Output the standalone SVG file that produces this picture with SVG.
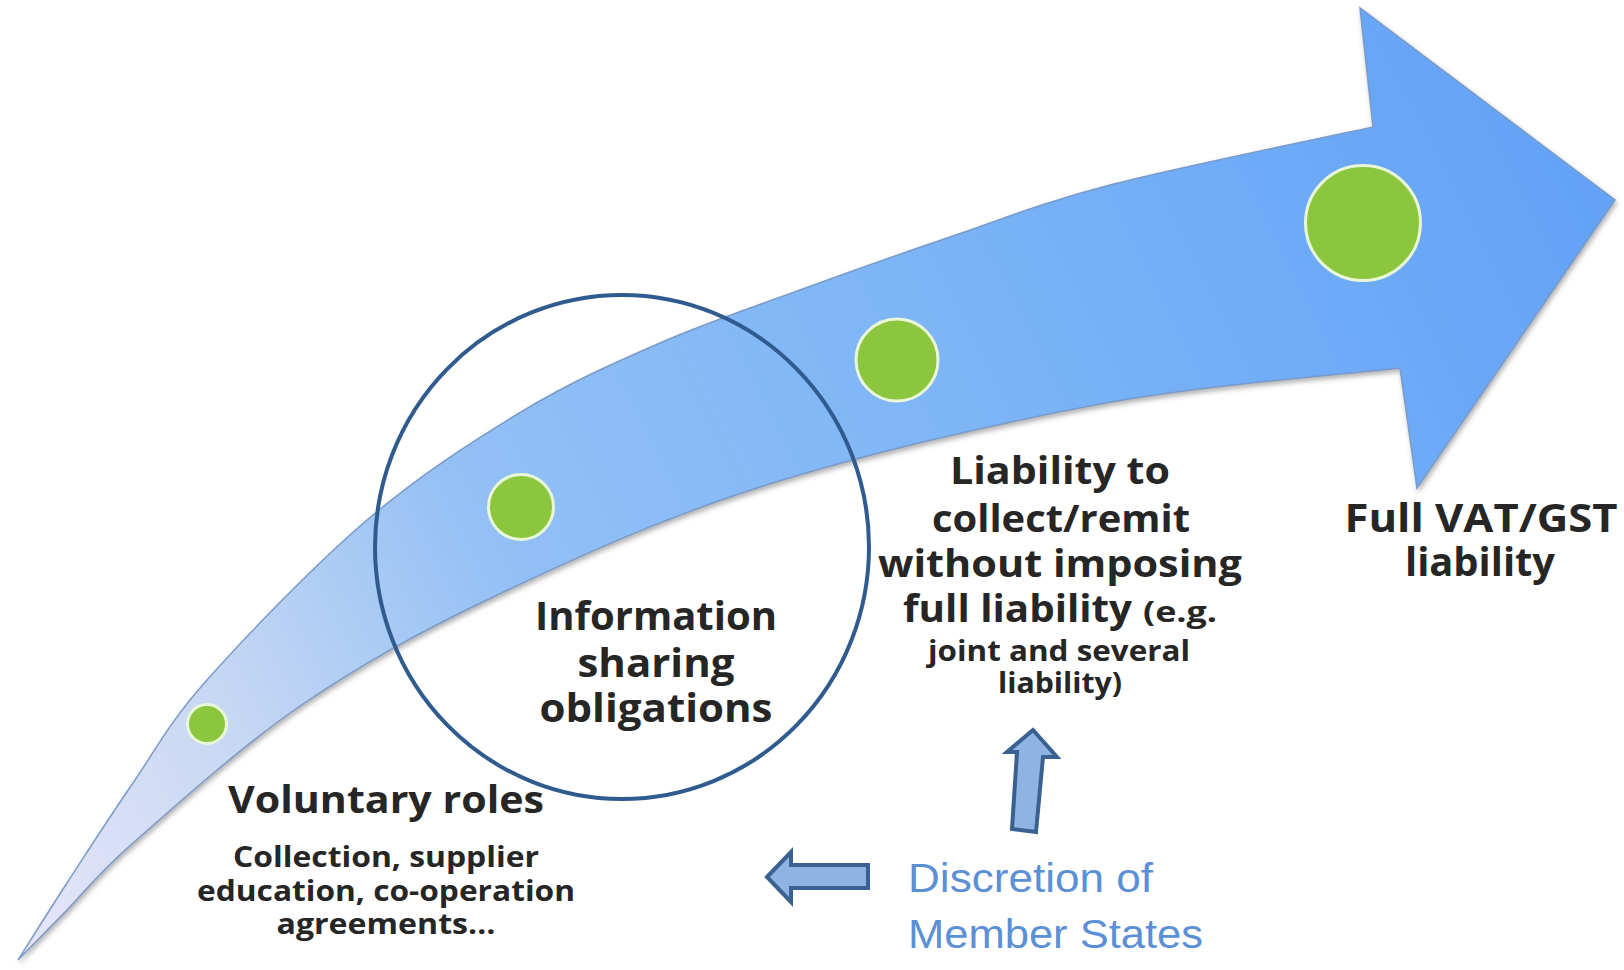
<svg xmlns="http://www.w3.org/2000/svg" width="1624" height="970" viewBox="0 0 1624 970">
  <defs>
    <linearGradient id="bandGrad" gradientUnits="userSpaceOnUse" x1="18" y1="960" x2="1615" y2="150">
      <stop offset="0" stop-color="#e8e6f9"/>
      <stop offset="0.17" stop-color="#c6d7f3"/>
      <stop offset="0.34" stop-color="#93c0f5"/>
      <stop offset="0.7" stop-color="#76b1f7"/>
      <stop offset="1" stop-color="#62a1f6"/>
    </linearGradient>
    <filter id="shadow" x="-5%" y="-5%" width="110%" height="115%">
      <feDropShadow dx="1.5" dy="3" stdDeviation="2.5" flood-color="#555" flood-opacity="0.45"/>
    </filter>
    <style>
      .dot { fill: #8cc63f; stroke: #e9f8d6; stroke-width: 3; }
      .lbl { font-family: "Open Sans", "Liberation Sans", sans-serif; font-weight: 700; fill: #262626; text-anchor: middle; }
      .big { font-size: 39px; }
      .mid { font-size: 37px; }
      .sm { font-size: 28px; }
      .blk { fill: #8eb4e3; stroke: #3a6191; stroke-width: 4; stroke-linejoin: miter; }
      .note { font-family: "Liberation Sans", "Noto Sans", sans-serif; font-size: 41px; fill: #5b8fd6; }
    </style>
  </defs>

  <rect width="1624" height="970" fill="#ffffff"/>

  <g id="main-arrow">
    <path filter="url(#shadow)" fill="url(#bandGrad)" stroke="#7a9bc9" stroke-width="1.5" stroke-linejoin="miter"
      d="M 18,960
         C 26.2,947.2 47.8,912.5 67,883
         C 86.2,853.5 109.7,816.8 133,783
         C 156.3,749.2 168,723.8 207,680
         C 246,636.2 314.7,564.7 367,520
         C 419.3,475.3 472.2,441.5 521,412
         C 569.8,382.5 613.5,363.3 660,343
         C 706.5,322.7 751.7,307.7 800,290
         C 848.3,272.3 898.3,254.5 950,237
         C 1001.7,219.5 1039.5,203.3 1110,185
         C 1180.5,166.7 1329.2,136.7 1373,127
         L 1360,8
         L 1615,200
         L 1417,488
         L 1400,368
         C 1350,374 1206.7,384.2 1100,404
         C 993.3,423.8 861.2,454.8 760,487
         C 658.8,519.2 569.7,560.5 493,597
         C 416.3,633.5 360,665 300,706
         C 240,747 171.8,809 133,843
         C 94.2,877 86.2,890.5 67,910
         C 47.8,929.5 26.2,951.7 18,960 Z"/>
  </g>

  <g id="stage-voluntary">
    <circle class="dot" cx="207" cy="724" r="19.5"/>
    <text class="lbl mid" x="386" y="813" textLength="316" lengthAdjust="spacingAndGlyphs">Voluntary roles</text>
    <text class="lbl sm" x="386" y="867" textLength="306" lengthAdjust="spacingAndGlyphs">Collection, supplier</text>
    <text class="lbl sm" x="386" y="901" textLength="378" lengthAdjust="spacingAndGlyphs">education, co-operation</text>
    <text class="lbl sm" x="386" y="934" textLength="219" lengthAdjust="spacingAndGlyphs">agreements…</text>
  </g>

  <g id="stage-information">
    <circle class="dot" cx="521" cy="507" r="32.5"/>
    <text class="lbl big" x="656" y="630" textLength="242" lengthAdjust="spacingAndGlyphs">Information</text>
    <text class="lbl big" x="656" y="677" textLength="157" lengthAdjust="spacingAndGlyphs">sharing</text>
    <text class="lbl big" x="656" y="722" textLength="233" lengthAdjust="spacingAndGlyphs">obligations</text>
  </g>

  <g id="highlight-ring">
    <ellipse cx="622" cy="547" rx="247" ry="252" fill="none" stroke="#2f5b8e" stroke-width="4"/>
  </g>

  <g id="stage-collect">
    <circle class="dot" cx="897" cy="360" r="41"/>
    <text class="lbl mid" x="1060" y="484" textLength="220" lengthAdjust="spacingAndGlyphs">Liability to</text>
    <text class="lbl mid" x="1061" y="532" textLength="258" lengthAdjust="spacingAndGlyphs">collect/remit</text>
    <text class="lbl mid" x="1060" y="577" textLength="364" lengthAdjust="spacingAndGlyphs">without imposing</text>
    <text class="lbl mid" x="1017.5" y="622" textLength="229" lengthAdjust="spacingAndGlyphs">full liability</text>
    <text class="lbl sm" x="1180" y="622" textLength="74" lengthAdjust="spacingAndGlyphs">(e.g.</text>
    <text class="lbl sm" x="1059" y="661" textLength="262" lengthAdjust="spacingAndGlyphs">joint and several</text>
    <text class="lbl sm" x="1060" y="693" textLength="124" lengthAdjust="spacingAndGlyphs">liability)</text>
  </g>

  <g id="stage-full">
    <circle class="dot" cx="1363" cy="223" r="57.5"/>
    <text class="lbl big" x="1481" y="532" textLength="273" lengthAdjust="spacingAndGlyphs">Full VAT/GST</text>
    <text class="lbl big" x="1480" y="576" textLength="150" lengthAdjust="spacingAndGlyphs">liability</text>
  </g>

  <g id="connectors">
    <polygon class="blk" points="1033,730 1057,757 1043,757 1036,832 1012,829 1017,752 1007,752"/>
    <polygon class="blk" points="767,877 791,852 791,865 868,865 868,888 791,888 791,902"/>
  </g>

  <g id="discretion-note">
    <text class="note" x="908" y="892" textLength="245" lengthAdjust="spacingAndGlyphs">Discretion of</text>
    <text class="note" x="908" y="948" textLength="295" lengthAdjust="spacingAndGlyphs">Member States</text>
  </g>
</svg>
